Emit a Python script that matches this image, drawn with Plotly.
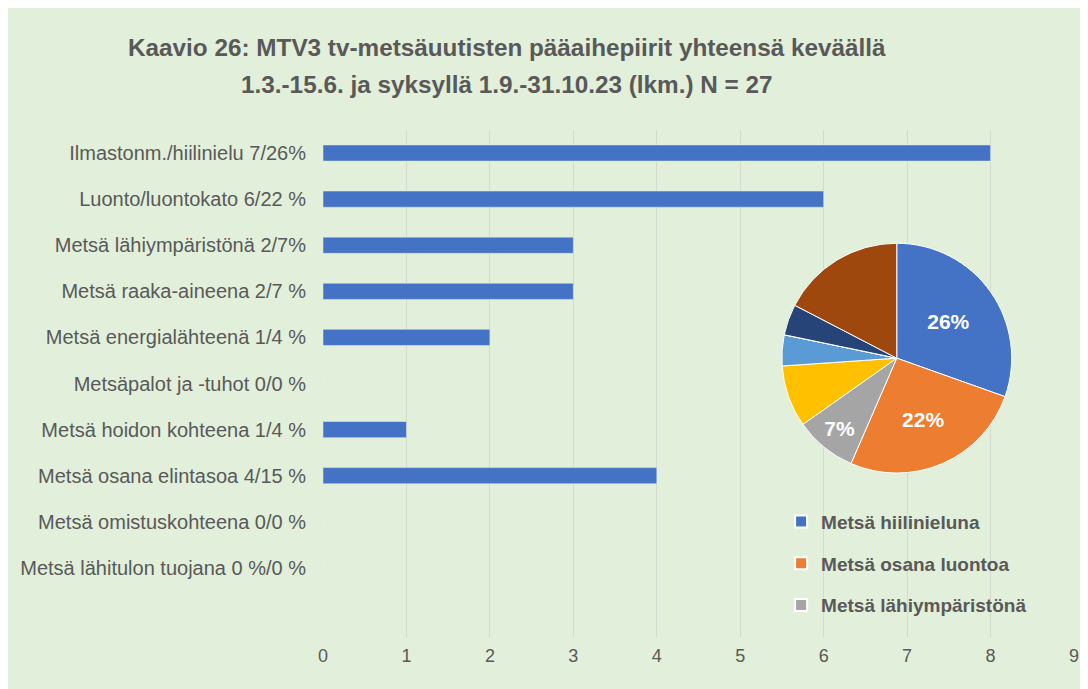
import plotly.graph_objects as go

categories = [
    "Ilmastonm./hiilinielu 7/26%",
    "Luonto/luontokato 6/22 %",
    "Metsä lähiympäristönä 2/7%",
    "Metsä raaka-aineena 2/7 %",
    "Metsä energialähteenä 1/4 %",
    "Metsäpalot ja -tuhot 0/0 %",
    "Metsä hoidon kohteena 1/4 %",
    "Metsä osana elintasoa 4/15 %",
    "Metsä omistuskohteena 0/0 %",
    "Metsä lähitulon tuojana 0 %/0 %",
]
bar_values = [8, 6, 3, 3, 2, 0, 1, 4, 0, 0]

pie_labels = [
    "Metsä hiilinieluna",
    "Metsä osana luontoa",
    "Metsä lähiympäristönä",
    "Metsä raaka-aineena",
    "Metsä energialähteenä",
    "Metsäpalot ja -tuhot",
    "Metsä hoidon kohteena",
    "Metsä osana elintasoa",
]
pie_values = [7, 6, 2, 2, 1, 0, 1, 4]
pie_text = ["26%", "22%", "7%", "", "", "", "", ""]
pie_colors = ["#4472C4", "#ED7D31", "#A5A5A5", "#FFC000", "#5B9BD5", "#70AD47", "#264478", "#9E480E"]

legend_labels = pie_labels[:3]
legend_colors = pie_colors[:3]

title_lines = [
    "Kaavio 26: MTV3 tv-metsäuutisten pääaihepiirit yhteensä keväällä",
    "1.3.-15.6. ja syksyllä 1.9.-31.10.23 (lkm.) N = 27",
]

FONT = "Liberation Sans, Arial, sans-serif"
BG = "#E2EFDA"

fig = go.Figure()
fig.add_trace(go.Bar(
    x=bar_values, y=list(range(len(categories))), orientation="h",
    marker=dict(color="#4472C4"), width=0.35, showlegend=False,
))

fig.add_trace(go.Pie(
    labels=pie_labels, values=pie_values, text=pie_text,
    textinfo="text", textposition="inside", insidetextorientation="horizontal",
    textfont=dict(color="white", size=21, family=FONT, weight="bold"),
    marker=dict(colors=pie_colors, line=dict(color="white", width=1)),
    sort=False, direction="clockwise", rotation=0,
    domain=dict(x=[0.611, 0.917], y=[0.323, 0.777]),
    showlegend=False, hole=0,
))

for i, (lab, col) in enumerate(zip(legend_labels, legend_colors)):
    fig.add_trace(go.Scatter(
        x=[None], y=[None], mode="markers", name=lab, legendgroup=str(i),
        marker=dict(symbol="square", size=10, color=col, line=dict(color="white", width=1.5)),
    ))

annotations = []
for ty, txt in zip([1.1637, 1.0888], title_lines):
    annotations.append(dict(
        text="<b>" + txt + "</b>", xref="paper", yref="paper", x=0.245, y=ty,
        xanchor="center", yanchor="middle", showarrow=False,
        font=dict(family=FONT, size=24.3, color="#595959"),
    ))

fig.update_layout(
    width=1080, height=681,
    paper_bgcolor=BG, plot_bgcolor=BG,
    margin=dict(l=315, r=14, t=122, b=52),
    annotations=annotations,
    xaxis=dict(
        range=[0, 9], dtick=1, tick0=0, showgrid=True, gridcolor="#D3DBCE", gridwidth=1,
        zeroline=False, showline=False, ticks="", ticklabelstandoff=6, automargin=False,
        tickfont=dict(family=FONT, size=18, color="#595959"),
    ),
    yaxis=dict(
        range=[10.5, -0.5], tickmode="array", tickvals=list(range(len(categories))),
        ticktext=categories, showgrid=False, zeroline=False, showline=False, ticks="",
        ticklabelstandoff=16, automargin=False,
        tickfont=dict(family=FONT, size=20, color="#595959"),
    ),
    legend=dict(
        x=0.61, y=0.265, xanchor="left", yanchor="top", bgcolor="rgba(0,0,0,0)",
        font=dict(family=FONT, size=19, color="#595959", weight="bold"),
        traceorder="grouped", tracegroupgap=14, itemsizing="constant",
    ),
)

fig.write_html("out.html")
